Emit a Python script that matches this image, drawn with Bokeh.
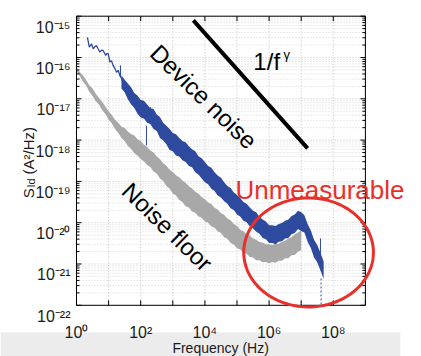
import numpy as np
from bokeh.plotting import figure
from bokeh.models import Label, PolyAnnotation, BoxAnnotation
from bokeh.core.properties import value
from bokeh.embed import file_html
from bokeh.resources import INLINE

# ---------------- data (log10 exponents) ----------------
blue_trace_fexp = [0.34, 0.40, 0.47, 0.52, 0.57, 0.62, 0.68, 0.73, 0.78, 0.83, 0.91,
                   0.95, 0.99, 1.04, 1.09, 1.14, 1.20, 1.25, 1.30, 1.35, 1.40, 1.45]
blue_trace_sexp = [-15.51, -15.75, -15.67, -15.79, -15.74, -15.71, -15.80, -15.87, -15.82,
                   -15.83, -15.95, -15.90, -15.91, -16.11, -16.08, -16.19, -16.27, -16.36,
                   -16.31, -16.44, -16.50, -16.60]

blue_band_fexp = [1.4, 1.5, 1.6, 1.7, 1.8, 1.9, 2.0, 2.1, 2.2, 2.3, 2.4, 2.5, 2.6, 2.7, 2.8,
                  2.9, 3.0, 3.1, 3.2, 3.3, 3.4, 3.5, 3.6, 3.7, 3.8, 3.9, 4.0, 4.1, 4.2, 4.3,
                  4.4, 4.5, 4.6, 4.7, 4.8, 4.9, 5.0, 5.1, 5.2, 5.3, 5.4, 5.5, 5.6, 5.7, 5.8,
                  5.9, 6.0, 6.1, 6.2, 6.3, 6.4, 6.5, 6.6, 6.7, 6.8, 6.9, 7.0, 7.1, 7.2, 7.3,
                  7.4, 7.5, 7.6, 7.7]
blue_band_hi = [-16.43, -16.54, -16.63, -16.72, -16.86, -16.92, -17.03, -17.05, -17.14, -17.23,
                -17.25, -17.38, -17.44, -17.58, -17.65, -17.73, -17.83, -17.86, -17.95, -18.02,
                -18.05, -18.15, -18.22, -18.27, -18.39, -18.44, -18.53, -18.63, -18.67, -18.78,
                -18.86, -18.91, -19.02, -19.11, -19.16, -19.27, -19.33, -19.40, -19.50, -19.54,
                -19.63, -19.71, -19.75, -19.86, -19.92, -19.97, -20.06, -20.06, -20.08, -20.03,
                -20.01, -19.95, -19.92, -19.84, -19.80, -19.71, -19.75, -19.82, -20.03, -20.19,
                -20.41, -20.54, -20.73, -20.94]
blue_band_lo = [-16.75, -16.84, -17.01, -17.13, -17.22, -17.36, -17.45, -17.48, -17.58, -17.61,
                -17.73, -17.78, -17.95, -18.01, -18.10, -18.24, -18.27, -18.37, -18.40, -18.49,
                -18.53, -18.63, -18.66, -18.78, -18.83, -18.93, -19.02, -19.07, -19.18, -19.23,
                -19.34, -19.39, -19.48, -19.54, -19.65, -19.69, -19.80, -19.85, -19.95, -19.99,
                -20.09, -20.14, -20.22, -20.27, -20.37, -20.40, -20.49, -20.49, -20.52, -20.46,
                -20.45, -20.38, -20.37, -20.28, -20.25, -20.15, -20.20, -20.24, -20.46, -20.61,
                -20.84, -20.96, -21.16, -21.36]

gray_band_fexp = [0.0, 0.1, 0.2, 0.3, 0.4, 0.5, 0.6, 0.7, 0.8, 0.9, 1.0, 1.1, 1.2, 1.3, 1.4,
                  1.5, 1.6, 1.7, 1.8, 1.9, 2.0, 2.1, 2.2, 2.3, 2.4, 2.5, 2.6, 2.7, 2.8, 2.9,
                  3.0, 3.1, 3.2, 3.3, 3.4, 3.5, 3.6, 3.7, 3.8, 3.9, 4.0, 4.1, 4.2, 4.3, 4.4,
                  4.5, 4.6, 4.7, 4.8, 4.9, 5.0, 5.1, 5.2, 5.3, 5.4, 5.5, 5.6, 5.7, 5.8, 5.9,
                  6.0, 6.1, 6.2, 6.3, 6.4, 6.5, 6.6, 6.7, 6.8, 6.9, 7.0]
gray_band_hi = [-16.24, -16.35, -16.43, -16.55, -16.67, -16.75, -16.88, -16.98, -17.07, -17.19,
                -17.30, -17.39, -17.51, -17.58, -17.67, -17.71, -17.79, -17.85, -17.89, -17.98,
                -18.02, -18.11, -18.16, -18.25, -18.30, -18.40, -18.46, -18.56, -18.62, -18.72,
                -18.77, -18.85, -18.90, -18.98, -19.03, -19.12, -19.17, -19.25, -19.30, -19.38,
                -19.43, -19.51, -19.55, -19.64, -19.68, -19.77, -19.81, -19.90, -19.94, -20.03,
                -20.08, -20.17, -20.21, -20.28, -20.31, -20.38, -20.41, -20.47, -20.48, -20.52,
                -20.52, -20.54, -20.51, -20.51, -20.46, -20.44, -20.38, -20.35, -20.28, -20.24,
                -20.19]
gray_band_lo = [-16.33, -16.44, -16.58, -16.68, -16.83, -16.93, -17.06, -17.14, -17.28, -17.37,
                -17.51, -17.59, -17.73, -17.82, -17.95, -18.02, -18.14, -18.21, -18.32, -18.37,
                -18.46, -18.51, -18.60, -18.65, -18.76, -18.81, -18.93, -18.99, -19.11, -19.17,
                -19.29, -19.34, -19.45, -19.50, -19.60, -19.63, -19.73, -19.76, -19.85, -19.88,
                -19.97, -20.00, -20.09, -20.12, -20.21, -20.25, -20.35, -20.39, -20.49, -20.53,
                -20.62, -20.65, -20.73, -20.75, -20.83, -20.84, -20.91, -20.91, -20.96, -20.95,
                -20.98, -20.95, -20.97, -20.92, -20.92, -20.86, -20.86, -20.79, -20.78, -20.70,
                -20.67]

spike_fexp = [1.37, 2.18, 2.30, 7.60]
spike_hi = [-16.19, -17.65, -17.20, -20.38]
spike_lo = [-16.45, -18.13, -17.45, -21.04]
tail_fexp = [7.62, 7.62]
tail_sexp = [-21.35, -22.0]

guide_fexp = [3.64, 7.20]
guide_sexp = [-15.10, -18.20]

ell_center = (7.23, -20.72)
ell_radii = (2.02, 1.32)

# axes: decades shown and their labels
x_decades = [0, 1, 2, 3, 4, 5, 6, 7, 8, 9]
x_label_decades = [0, 2, 4, 6, 8]
x_label_text = ["10⁰", "10²", "10⁴", "10⁶", "10⁸"]
y_decades = [-22, -21, -20, -19, -18, -17, -16, -15]
y_label_text = ["10⁻²²", "10⁻²¹", "10⁻²⁰", "10⁻¹⁹", "10⁻¹⁸", "10⁻¹⁷", "10⁻¹⁶", "10⁻¹⁵"]

# ---------------- style / layout ----------------
BLUE = "#2e4a9e"
GRAY = "#a8a8a8"
RED = "#e8302a"
INK = "#1a1a1a"
FONT = "Liberation Sans"
# visible canvas expressed in decades (the axes box is 10^0..10^9 by 10^-22..10^-15)
X_LO, X_HI = -2.3676, 10.7477
Y_LO, Y_HI = -23.2397, -14.6199


def p10(a):
    return (10.0 ** np.asarray(a, dtype=float)).tolist()


p = figure(width=421, height=356, x_axis_type="log", y_axis_type="log",
           x_range=(10 ** X_LO, 10 ** X_HI), y_range=(10 ** Y_LO, 10 ** Y_HI),
           x_axis_location=None, y_axis_location=None,
           output_backend="svg", toolbar_location=None, min_border=0)
p.outline_line_color = None
p.background_fill_color = "white"
p.border_fill_color = "white"
p.xgrid.visible = False
p.ygrid.visible = False

x0, x1 = 10.0 ** x_decades[0], 10.0 ** x_decades[-1]
y0, y1 = 10.0 ** y_decades[0], 10.0 ** y_decades[-1]
xmaj = p10(x_decades)
ymaj = p10(y_decades)
ymin = [m * 10.0 ** k for k in y_decades[:-1] for m in range(2, 10)]

# window bar under the chart
p.add_layout(BoxAnnotation(left=10 ** X_LO, right=10 ** 10.09, bottom=10 ** Y_LO, top=10 ** -22.66,
                           fill_color="#ececec", fill_alpha=1.0, line_color=None, level="underlay"))

# dotted grid
p.segment(x0=[x0] * len(ymin), y0=ymin, x1=[x1] * len(ymin), y1=ymin,
          line_color="#d4d4d4", line_dash="1 2", line_width=1)
p.segment(x0=[x0] * len(ymaj), y0=ymaj, x1=[x1] * len(ymaj), y1=ymaj,
          line_color="#c2c2c2", line_dash="1 2", line_width=1)
p.segment(x0=xmaj, y0=[y0] * len(xmaj), x1=xmaj, y1=[y1] * len(xmaj),
          line_color="#c2c2c2", line_dash="1 2", line_width=1)

# data
p.varea(x=p10(gray_band_fexp), y1=p10(gray_band_lo), y2=p10(gray_band_hi), color=GRAY)
p.line(x=p10(blue_trace_fexp), y=p10(blue_trace_sexp), color=BLUE, line_width=1.3)
p.varea(x=p10(blue_band_fexp), y1=p10(blue_band_lo), y2=p10(blue_band_hi), color=BLUE)
p.segment(x0=p10(spike_fexp), y0=p10(spike_lo), x1=p10(spike_fexp), y1=p10(spike_hi),
          color=BLUE, line_width=1)
p.line(x=p10(tail_fexp), y=p10(tail_sexp), color=BLUE, line_width=1, line_dash="2 2")

# 1/f^gamma guide line
p.line(x=p10(guide_fexp), y=p10(guide_sexp), color="black", line_width=4)

# axes box
p.quad(left=[x0], right=[x1], bottom=[y0], top=[y1], fill_color=None, line_color="black",
       line_width=1)

# inward ticks (left, right, bottom, top)
p.ray(x=[x0] * len(ymaj), y=ymaj, length=5, length_units="screen", angle=0, color="black")
p.ray(x=[x1] * len(ymaj), y=ymaj, length=5, length_units="screen", angle=np.pi, color="black")
p.ray(x=[x0] * len(ymin), y=ymin, length=3, length_units="screen", angle=0, color="black")
p.ray(x=[x1] * len(ymin), y=ymin, length=3, length_units="screen", angle=np.pi, color="black")
p.ray(x=xmaj, y=[y0] * len(xmaj), length=5, length_units="screen", angle=np.pi / 2, color="black")
p.ray(x=xmaj, y=[y1] * len(xmaj), length=5, length_units="screen", angle=-np.pi / 2, color="black")

# tick labels
p.text(x=p10(x_label_decades), y=[y0] * len(x_label_decades), text=x_label_text,
       y_offset=27, text_align="center", text_baseline="alphabetic",
       text_font=value(FONT), text_font_size=value("16px"), text_color=INK)
p.text(x=[x0] * len(y_decades), y=ymaj, text=y_label_text,
       x_offset=-6, y_offset=11, text_align="right", text_baseline="alphabetic",
       text_font=value(FONT), text_font_size=value("16px"), text_color=INK)

# ellipse around the unmeasurable region
t = np.linspace(0, 2 * np.pi, 120)
ex = 10 ** (ell_center[0] + ell_radii[0] * np.cos(t))
ey = 10 ** (ell_center[1] + ell_radii[1] * np.sin(t))
p.add_layout(PolyAnnotation(xs=ex.tolist(), ys=ey.tolist(), fill_alpha=0, fill_color=None,
                            line_color=RED, line_alpha=1.0, line_width=3))

# annotations
p.add_layout(Label(x=10 ** 3.96, y=10 ** -16.95, text="Device noise", angle=-0.77,
                   text_align="center", text_baseline="middle", text_font=FONT,
                   text_font_size="24px", text_color="black"))
p.add_layout(Label(x=10 ** 2.83, y=10 ** -20.10, text="Noise floor", angle=-0.77,
                   text_align="center", text_baseline="middle", text_font=FONT,
                   text_font_size="24px", text_color="black"))
p.add_layout(Label(x=10 ** 5.51, y=10 ** -16.10, text="1/f", text_align="left",
                   text_baseline="alphabetic", text_font=FONT, text_font_size="24px",
                   text_color="black"))
p.add_layout(Label(x=10 ** 6.45, y=10 ** -15.93, text="γ", text_align="left",
                   text_baseline="alphabetic", text_font=FONT, text_font_size="13px",
                   text_color="black"))
p.add_layout(Label(x=10 ** 4.95, y=10 ** -19.22, text="Unmeasurable", text_align="left",
                   text_baseline="alphabetic", text_font=FONT, text_font_size="26px",
                   text_color=RED))

# axis titles
p.add_layout(Label(x=10 ** 4.49, y=10 ** -23.04, text="Frequency (Hz)", text_align="center",
                   text_baseline="alphabetic", text_font=FONT, text_font_size="14px",
                   text_color=INK))
p.add_layout(Label(x=10 ** -1.50, y=10 ** -19.41, text="S", angle=np.pi / 2, text_align="left",
                   text_baseline="alphabetic", text_font=FONT, text_font_size="15px",
                   text_color=INK))
p.add_layout(Label(x=10 ** -1.43, y=10 ** -19.15, text="Id", angle=np.pi / 2, text_align="left",
                   text_baseline="alphabetic", text_font=FONT, text_font_size="11px",
                   text_color=INK))
p.add_layout(Label(x=10 ** -1.50, y=10 ** -18.83, text="(A²/Hz)", angle=np.pi / 2,
                   text_align="left", text_baseline="alphabetic", text_font=FONT,
                   text_font_size="15px", text_color=INK))

open("out.html", "w").write(file_html(p, INLINE))
